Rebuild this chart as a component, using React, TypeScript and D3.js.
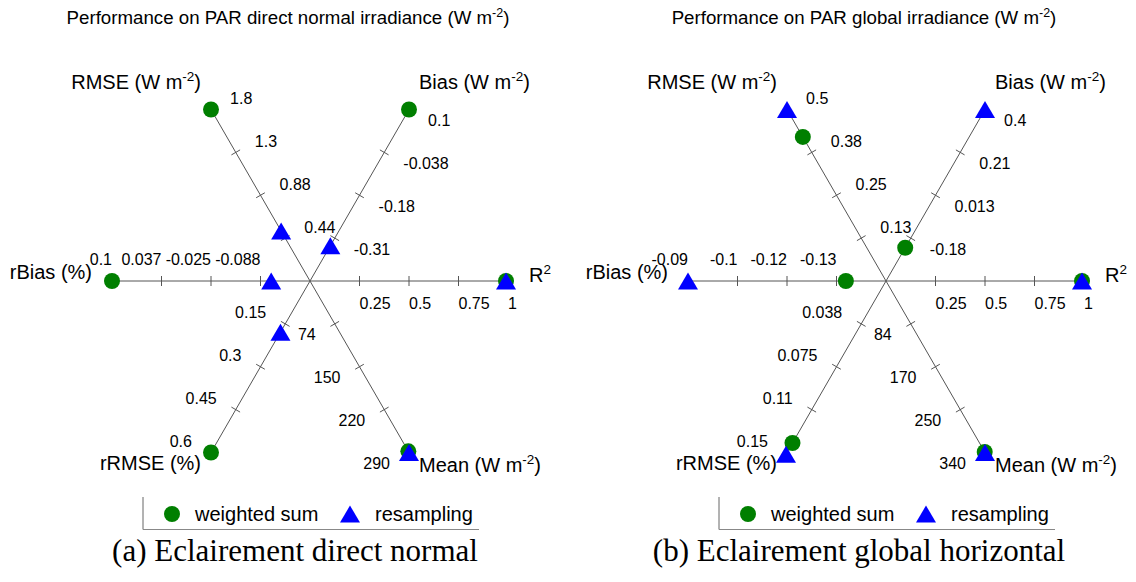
import React from 'react';
import * as d3 from 'd3';

// ---------- data ----------
const axisKeys = ['R2', 'Bias', 'RMSE', 'rBias', 'rRMSE', 'Mean'];
const axisAngles = [0, 60, 120, 180, 240, 300];
const axisTitleMain = ['R', 'Bias (W m', 'RMSE (W m', 'rBias (%)', 'rRMSE (%)', 'Mean (W m'];
const axisTitleSup = ['2', '-2', '-2', '', '', '-2'];
const axisTitleTail = ['', ')', ')', '', '', ')'];
const tickFractions = [0.25, 0.5, 0.75, 1];
const seriesNames = ['weighted sum', 'resampling'];

// (a) direct normal
const directMin = [0, -0.45, 0, -0.15, 0, 0];
const directMax = [1, 0.1, 1.75, 0.1, 0.6, 295];
const directTickLabels = [
  ['0.25', '0.5', '0.75', '1'],
  ['-0.31', '-0.18', '-0.038', '0.1'],
  ['0.44', '0.88', '1.3', '1.8'],
  ['-0.088', '-0.025', '0.037', '0.1'],
  ['0.15', '0.3', '0.45', '0.6'],
  ['74', '150', '220', '290'],
];
const directWeighted = [0.99, 0.1, 1.75, 0.1, 0.6, 293];
const directResampling = [0.99, -0.337, 0.51, -0.101, 0.179, 295];

// (b) global horizontal
const globalMin = [0, -0.373, 0, -0.1433, 0, 0];
const globalMax = [1, 0.4, 0.5, -0.09, 0.15, 336];
const globalTickLabels = [
  ['0.25', '0.5', '0.75', '1'],
  ['-0.18', '0.013', '0.21', '0.4'],
  ['0.13', '0.25', '0.38', '0.5'],
  ['-0.13', '-0.12', '-0.1', '-0.09'],
  ['0.038', '0.075', '0.11', '0.15'],
  ['84', '170', '250', '340'],
];
const globalWeighted = [0.99, -0.223, 0.42, -0.1325, 0.1417, 335];
const globalResampling = [0.99, 0.4, 0.5, -0.09, 0.1515, 336];

// ---------- style ----------
const W = 1136;
const H = 582;
const R = 198;
const CY = 281;
const SANS = '"Liberation Sans", Arial, sans-serif';
const SERIF = '"Liberation Serif", "Times New Roman", serif';
const GREEN = '#007f00';
const BLUE = '#0000ff';
const AXIS = '#555555';

const triPath = 'M0,-8.5L10,8.5L-10,8.5Z';

type PanelProps = {
  cx: number;
  captionX: number;
  title: string;
  caption: string;
  mins: number[];
  maxs: number[];
  tickLabels: string[][];
  weighted: number[];
  resampling: number[];
};

function Panel({ cx, captionX, title, caption, mins, maxs, tickLabels, weighted, resampling }: PanelProps) {
  const scales = axisKeys.map((_, i) => d3.scaleLinear().domain([mins[i], maxs[i]]).range([0, R]));
  const pos = (i: number, r: number) => {
    const a = (axisAngles[i] * Math.PI) / 180;
    return [cx + r * Math.cos(a), CY - r * Math.sin(a)];
  };

  return (
    <g>
      {/* chart title */}
      <text x={cx - 22} y={24} textAnchor="middle" fontFamily={SANS} fontSize={18.7} fill="#000">
        <tspan>{title}</tspan>
        <tspan dy={-7} fontSize={12.5}>-2</tspan>
        <tspan dy={7}>)</tspan>
      </text>

      {/* axes */}
      {axisKeys.map((k, i) => {
        const [ex, ey] = pos(i, R);
        const a = (axisAngles[i] * Math.PI) / 180;
        const px = Math.sin(a);
        const py = Math.cos(a);
        return (
          <g key={k}>
            <line x1={cx} y1={CY} x2={ex} y2={ey} stroke={AXIS} strokeWidth={1} />
            {tickFractions.slice(0, 3).map((f) => {
              const [tx, ty] = pos(i, scales[i](mins[i] + f * (maxs[i] - mins[i])));
              return (
                <line key={f} x1={tx - 5 * px} y1={ty - 5 * py} x2={tx + 5 * px} y2={ty + 5 * py}
                  stroke={AXIS} strokeWidth={1} />
              );
            })}
          </g>
        );
      })}

      {/* tick labels */}
      {axisKeys.map((k, i) => {
        const a = (axisAngles[i] * Math.PI) / 180;
        const ox = 22 * Math.sin(a);
        const oy = 22 * Math.cos(a);
        let anchor = 'start';
        if (ox < -0.5) anchor = 'end';
        else if (Math.abs(ox) <= 0.5) anchor = axisAngles[i] === 180 ? 'end' : 'start';
        return tickLabels[i].map((lab, j) => {
          const [tx, ty] = pos(i, scales[i](mins[i] + tickFractions[j] * (maxs[i] - mins[i])));
          return (
            <text key={k + j} x={tx + ox} y={ty + oy} textAnchor={anchor} dominantBaseline="central"
              fontFamily={SANS} fontSize={16} fill="#000">{lab}</text>
          );
        });
      })}

      {/* markers */}
      {weighted.map((v, i) => {
        const [x, y] = pos(i, scales[i](v));
        return <circle key={'w' + i} cx={x} cy={y} r={8} fill={GREEN} />;
      })}
      {resampling.map((v, i) => {
        const [x, y] = pos(i, scales[i](v));
        return <path key={'r' + i} d={triPath} transform={`translate(${x},${y})`} fill={BLUE} />;
      })}

      {/* axis titles */}
      {axisKeys.map((k, i) => {
        const [ex, ey] = pos(i, R);
        const ang = axisAngles[i];
        let x = ex, y = ey, anchor = 'start';
        if (ang === 0) { x = ex + 21; y = ey + 1; anchor = 'start'; }
        else if (ang === 180) { x = ex - 20; y = ey - 2; anchor = 'end'; }
        else if (ang === 60) { x = ex + 10; y = ey - 21; anchor = 'start'; }
        else if (ang === 300) { x = ex + 10; y = ey + 20; anchor = 'start'; }
        else if (ang === 120) { x = ex - 10; y = ey - 21; anchor = 'end'; }
        else { x = ex - 10; y = ey + 18; anchor = 'end'; }
        return (
          <text key={'t' + k} x={x} y={y} textAnchor={anchor} fontFamily={SANS} fontSize={20} fill="#000">
            <tspan>{axisTitleMain[i]}</tspan>
            {axisTitleSup[i] && <tspan dy={-8} fontSize={13.5}>{axisTitleSup[i]}</tspan>}
            {axisTitleTail[i] && <tspan dy={8}>{axisTitleTail[i]}</tspan>}
          </text>
        );
      })}

      {/* legend */}
      <g>
        <line x1={cx - 167} y1={497} x2={cx - 167} y2={529.5} stroke="#666" strokeWidth={1} />
        <line x1={cx - 167} y1={529.5} x2={cx + 169} y2={529.5} stroke="#888" strokeWidth={1} />
        <circle cx={cx - 138} cy={514} r={8} fill={GREEN} />
        <text x={cx - 115} y={521} fontFamily={SANS} fontSize={20} fill="#000">{seriesNames[0]}</text>
        <path d={triPath} transform={`translate(${cx + 40},${514})`} fill={BLUE} />
        <text x={cx + 65} y={521} fontFamily={SANS} fontSize={20} fill="#000">{seriesNames[1]}</text>
      </g>

      {/* caption */}
      <text x={captionX} y={561} textAnchor="middle" fontFamily={SERIF} fontSize={31} fill="#000">{caption}</text>
    </g>
  );
}

export default function App() {
  return (
    <svg width={W} height={H} viewBox={`0 0 ${W} ${H}`}
      style={{ position: 'absolute', left: 0, top: 0, background: '#fff' }}>
      <rect x={0} y={0} width={W} height={H} fill="#fff" />
      <Panel cx={310} captionX={295} title="Performance on PAR direct normal irradiance (W m" caption="(a) Eclairement direct normal"
        mins={directMin} maxs={directMax} tickLabels={directTickLabels}
        weighted={directWeighted} resampling={directResampling} />
      <Panel cx={886} captionX={859} title="Performance on PAR global irradiance (W m" caption="(b) Eclairement global horizontal"
        mins={globalMin} maxs={globalMax} tickLabels={globalTickLabels}
        weighted={globalWeighted} resampling={globalResampling} />
    </svg>
  );
}
